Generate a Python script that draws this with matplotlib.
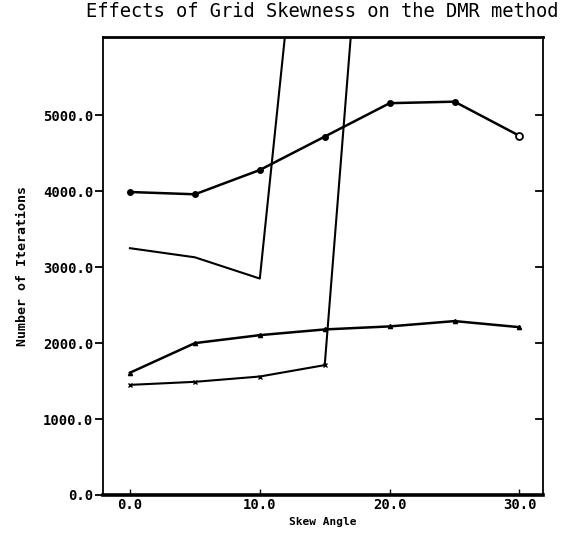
import matplotlib.pyplot as plt

# Skew angles (degrees) and iteration counts for the four runs
skew = [0.0, 5.0, 10.0, 15.0, 20.0, 25.0, 30.0]
iters_a = [3990, 3960, 4280, 4720, 5160, 5180, 4730]
skew_b = [0.0, 5.0, 10.0, 15.0]
iters_b = [3250, 3130, 2850, 11100]
iters_c = [1610, 2000, 2105, 2180, 2220, 2290, 2210]
skew_d = [0.0, 5.0, 10.0, 15.0, 20.0]
iters_d = [1450, 1490, 1560, 1710, 12500]

yticks = [0, 1000, 2000, 3000, 4000, 5000]
xticks = [0, 10, 20, 30]

mono = "DejaVu Sans Mono"

fig = plt.figure(figsize=(5.69, 5.38), dpi=100)
ax = fig.add_axes([0.181, 0.080, 0.773, 0.851])

ink = "black"
ax.plot(skew, iters_a, color=ink, lw=1.8, marker="o", ms=4, mfc=ink)
ax.plot(skew_b, iters_b, color=ink, lw=1.5)
ax.plot(skew, iters_c, color=ink, lw=1.8, marker="^", ms=3)
ax.plot(skew_d, iters_d, color=ink, lw=1.5, marker="x", ms=3)
# last point of the top run is drawn hollow
ax.plot(skew[-1], iters_a[-1], "o", ms=5, mfc="white", mec=ink, mew=1.3)

ax.set_xlim(-2.08, 31.8)
ax.set_ylim(0, 6030)

ax.set_yticks(yticks)
ax.set_yticklabels([f"{v:.1f}" for v in yticks], family=mono,
                   fontsize=10, fontweight="bold")
ax.set_xticks(xticks)
ax.set_xticklabels([f"{v:.1f}" for v in xticks], family=mono,
                   fontsize=10, fontweight="bold")
ax.tick_params(axis="y", direction="out", length=6, width=1.3, pad=1)
ax.tick_params(axis="x", direction="in", length=4, width=1.0, pad=2)

# inward ticks on the right spine
for v in yticks[1:]:
    ax.plot([31.8, 31.3], [v, v], color=ink, lw=1.3, clip_on=False)

for side, w in [("left", 1.3), ("right", 1.3), ("top", 2.0), ("bottom", 2.6)]:
    ax.spines[side].set_linewidth(w)
    ax.spines[side].set_color(ink)

ax.set_xlabel("Skew Angle", family=mono, fontsize=8, fontweight="bold",
              labelpad=4)
ax.set_ylabel("Number of Iterations", family=mono, fontsize=9.5,
              fontweight="bold", labelpad=10)

fig.text(0.152, 0.978, "Effects of Grid Skewness on the DMR method",
         ha="left", va="center", family=mono, fontsize=13.5)

fig.savefig("out.png", dpi=100)
